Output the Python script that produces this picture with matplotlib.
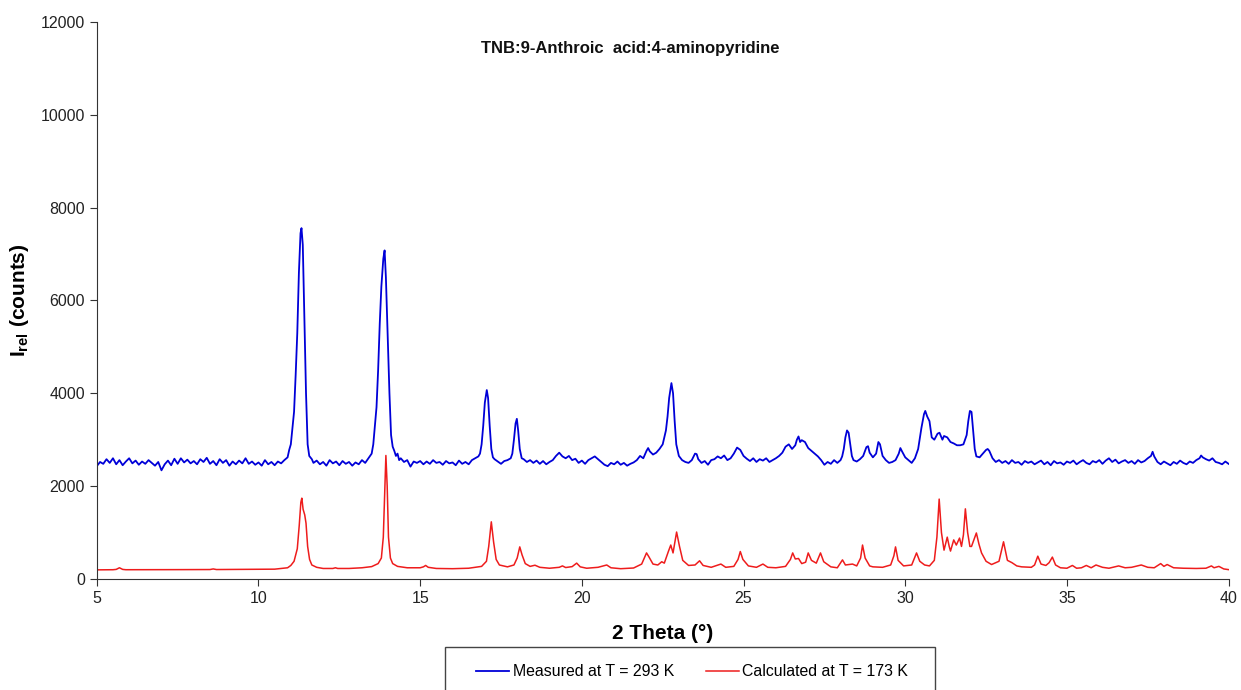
import matplotlib
matplotlib.use('Agg')
import matplotlib.pyplot as plt
from matplotlib.patches import Rectangle

plt.rcParams['font.family'] = ['Liberation Sans', 'DejaVu Sans']
plt.rcParams['mathtext.fontset'] = 'custom'
plt.rcParams['mathtext.rm'] = 'Liberation Sans'
plt.rcParams['mathtext.bf'] = 'Liberation Sans:bold'

title = 'TNB:9-Anthroic  acid:4-aminopyridine'
label_measured = 'Measured at T = 293 K'
label_calculated = 'Calculated at T = 173 K'
x_ticks = [5, 10, 15, 20, 25, 30, 35, 40]
y_ticks = [0, 2000, 4000, 6000, 8000, 10000, 12000]

# (2 theta, counts)
measured = [
    (5.0, 2430), (5.1, 2520), (5.2, 2480), (5.3, 2580), (5.4, 2500), (5.5, 2600), (5.6, 2470),
    (5.7, 2560), (5.8, 2450), (5.9, 2530), (6.0, 2600), (6.1, 2490), (6.2, 2550), (6.3, 2460),
    (6.4, 2530), (6.5, 2480), (6.6, 2560), (6.7, 2500), (6.8, 2440), (6.9, 2520), (7.0, 2340),
    (7.1, 2470), (7.2, 2550), (7.3, 2450), (7.4, 2590), (7.5, 2480), (7.6, 2600), (7.7, 2510),
    (7.8, 2570), (7.9, 2490), (8.0, 2540), (8.1, 2470), (8.2, 2580), (8.3, 2520), (8.4, 2610),
    (8.5, 2480), (8.6, 2540), (8.7, 2450), (8.8, 2580), (8.9, 2500), (9.0, 2560), (9.1, 2440),
    (9.2, 2530), (9.3, 2470), (9.4, 2550), (9.5, 2490), (9.6, 2600), (9.7, 2480), (9.8, 2530),
    (9.9, 2460), (10.0, 2510), (10.1, 2440), (10.2, 2560), (10.3, 2470), (10.4, 2520), (10.5, 2450),
    (10.6, 2530), (10.7, 2490), (10.8, 2560), (10.9, 2620), (10.95, 2780), (11.0, 2900),
    (11.05, 3250), (11.1, 3600), (11.15, 4400), (11.2, 5300), (11.25, 6600), (11.3, 7450),
    (11.33, 7560), (11.37, 7200), (11.42, 5600), (11.47, 4000), (11.52, 2900), (11.57, 2650),
    (11.65, 2580), (11.7, 2500), (11.8, 2550), (11.9, 2470), (12.0, 2520), (12.1, 2440),
    (12.2, 2560), (12.3, 2490), (12.4, 2530), (12.5, 2450), (12.6, 2540), (12.7, 2480),
    (12.8, 2520), (12.9, 2440), (13.0, 2510), (13.1, 2470), (13.2, 2560), (13.3, 2500),
    (13.4, 2600), (13.45, 2650), (13.5, 2700), (13.55, 2900), (13.6, 3300), (13.65, 3700),
    (13.7, 4500), (13.75, 5500), (13.8, 6300), (13.86, 6900), (13.9, 7080), (13.94, 6500),
    (14.0, 5100), (14.05, 4000), (14.1, 3100), (14.15, 2850), (14.2, 2760), (14.25, 2650),
    (14.3, 2700), (14.35, 2560), (14.4, 2600), (14.5, 2520), (14.6, 2560), (14.7, 2420),
    (14.8, 2530), (14.9, 2500), (15.0, 2540), (15.1, 2470), (15.2, 2530), (15.3, 2480),
    (15.4, 2560), (15.5, 2500), (15.6, 2520), (15.7, 2460), (15.8, 2540), (15.9, 2490),
    (16.0, 2510), (16.1, 2450), (16.2, 2550), (16.3, 2480), (16.4, 2520), (16.5, 2470),
    (16.6, 2560), (16.7, 2600), (16.8, 2640), (16.85, 2700), (16.9, 2900), (16.95, 3300),
    (17.0, 3800), (17.06, 4070), (17.1, 3900), (17.15, 3300), (17.2, 2800), (17.25, 2620),
    (17.3, 2580), (17.4, 2530), (17.5, 2480), (17.6, 2540), (17.7, 2560), (17.8, 2600),
    (17.85, 2700), (17.9, 3000), (17.95, 3350), (17.99, 3450), (18.03, 3200), (18.08, 2800),
    (18.14, 2600), (18.2, 2580), (18.3, 2520), (18.4, 2560), (18.5, 2500), (18.6, 2550),
    (18.7, 2480), (18.8, 2540), (18.9, 2470), (19.0, 2520), (19.1, 2560), (19.2, 2650),
    (19.3, 2720), (19.4, 2640), (19.5, 2600), (19.6, 2650), (19.7, 2560), (19.8, 2590),
    (19.9, 2500), (20.0, 2550), (20.1, 2480), (20.2, 2560), (20.3, 2600), (20.4, 2640),
    (20.5, 2580), (20.6, 2520), (20.7, 2460), (20.8, 2430), (20.9, 2500), (21.0, 2470),
    (21.1, 2530), (21.2, 2460), (21.3, 2500), (21.4, 2440), (21.5, 2480), (21.6, 2510),
    (21.7, 2560), (21.8, 2650), (21.9, 2600), (22.0, 2760), (22.05, 2820), (22.1, 2750),
    (22.2, 2680), (22.3, 2720), (22.4, 2800), (22.5, 2900), (22.6, 3200), (22.65, 3500),
    (22.7, 3900), (22.77, 4220), (22.82, 4000), (22.87, 3400), (22.92, 2900), (23.0, 2650),
    (23.1, 2560), (23.2, 2520), (23.3, 2500), (23.4, 2560), (23.5, 2700), (23.55, 2690),
    (23.6, 2580), (23.7, 2500), (23.8, 2540), (23.9, 2460), (24.0, 2560), (24.1, 2580),
    (24.2, 2640), (24.3, 2600), (24.4, 2660), (24.5, 2560), (24.6, 2600), (24.7, 2700),
    (24.8, 2830), (24.9, 2780), (25.0, 2650), (25.1, 2590), (25.2, 2540), (25.3, 2600),
    (25.4, 2520), (25.5, 2580), (25.6, 2550), (25.7, 2600), (25.8, 2520), (25.9, 2560),
    (26.0, 2600), (26.1, 2650), (26.2, 2720), (26.3, 2850), (26.4, 2900), (26.5, 2800),
    (26.6, 2880), (26.65, 3000), (26.7, 3070), (26.75, 2950), (26.8, 2990), (26.9, 2950),
    (27.0, 2820), (27.1, 2760), (27.2, 2700), (27.3, 2640), (27.4, 2560), (27.5, 2460),
    (27.6, 2520), (27.7, 2480), (27.8, 2560), (27.9, 2500), (28.0, 2560), (28.05, 2640),
    (28.1, 2800), (28.15, 3050), (28.2, 3200), (28.25, 3150), (28.3, 2900), (28.35, 2650),
    (28.4, 2560), (28.5, 2530), (28.6, 2580), (28.7, 2650), (28.8, 2840), (28.85, 2860),
    (28.9, 2720), (29.0, 2620), (29.1, 2700), (29.17, 2950), (29.22, 2900), (29.3, 2650),
    (29.4, 2560), (29.5, 2500), (29.6, 2520), (29.7, 2560), (29.8, 2700), (29.85, 2820),
    (29.9, 2750), (30.0, 2620), (30.1, 2560), (30.2, 2500), (30.3, 2600), (30.4, 2800),
    (30.5, 3250), (30.58, 3550), (30.62, 3620), (30.68, 3500), (30.75, 3400), (30.82, 3050),
    (30.9, 3000), (31.0, 3130), (31.06, 3150), (31.15, 3000), (31.2, 3080), (31.3, 3050),
    (31.4, 2950), (31.5, 2920), (31.6, 2880), (31.7, 2880), (31.8, 2900), (31.9, 3100),
    (31.95, 3400), (32.0, 3620), (32.05, 3600), (32.1, 3200), (32.15, 2800), (32.2, 2640),
    (32.3, 2620), (32.4, 2700), (32.5, 2780), (32.55, 2800), (32.6, 2760), (32.7, 2600),
    (32.8, 2520), (32.9, 2560), (33.0, 2500), (33.1, 2540), (33.2, 2480), (33.3, 2560),
    (33.4, 2500), (33.5, 2520), (33.6, 2460), (33.7, 2540), (33.8, 2500), (33.9, 2530),
    (34.0, 2470), (34.1, 2510), (34.2, 2550), (34.3, 2470), (34.4, 2520), (34.5, 2450),
    (34.6, 2540), (34.7, 2490), (34.8, 2510), (34.9, 2460), (35.0, 2530), (35.1, 2500),
    (35.2, 2550), (35.3, 2470), (35.4, 2520), (35.5, 2560), (35.6, 2500), (35.7, 2470),
    (35.8, 2540), (35.9, 2510), (36.0, 2560), (36.1, 2480), (36.2, 2550), (36.3, 2600),
    (36.4, 2520), (36.5, 2570), (36.6, 2490), (36.7, 2530), (36.8, 2560), (36.9, 2500),
    (37.0, 2540), (37.1, 2480), (37.2, 2560), (37.3, 2510), (37.4, 2540), (37.5, 2600),
    (37.6, 2650), (37.65, 2740), (37.7, 2640), (37.8, 2520), (37.9, 2470), (38.0, 2530),
    (38.1, 2490), (38.2, 2450), (38.3, 2520), (38.4, 2480), (38.5, 2550), (38.6, 2500),
    (38.7, 2470), (38.8, 2530), (38.9, 2500), (39.0, 2560), (39.1, 2600), (39.15, 2660),
    (39.2, 2620), (39.3, 2580), (39.4, 2550), (39.5, 2600), (39.6, 2520), (39.7, 2500),
    (39.8, 2470), (39.9, 2530), (40.0, 2480),
]

calculated = [
    (5.0, 195), (5.5, 198), (5.6, 205), (5.7, 240), (5.8, 205), (5.9, 198), (6.5, 198),
    (7.5, 200), (8.5, 202), (8.6, 215), (8.7, 202), (9.5, 205), (10.5, 210), (10.9, 240),
    (11.0, 290), (11.1, 380), (11.2, 650), (11.26, 1150), (11.31, 1650), (11.34, 1740),
    (11.38, 1500), (11.43, 1380), (11.47, 1200), (11.52, 700), (11.58, 420), (11.65, 300),
    (11.8, 250), (12.0, 225), (12.3, 225), (12.38, 240), (12.45, 225), (12.8, 225), (13.2, 240),
    (13.5, 265), (13.7, 330), (13.8, 450), (13.86, 900), (13.9, 1800), (13.94, 2660),
    (13.98, 2000), (14.02, 900), (14.08, 450), (14.15, 330), (14.3, 270), (14.6, 240),
    (15.0, 240), (15.1, 260), (15.17, 290), (15.25, 250), (15.5, 225), (16.0, 220), (16.5, 230),
    (16.9, 270), (17.05, 380), (17.12, 700), (17.2, 1230), (17.27, 800), (17.35, 420),
    (17.45, 300), (17.58, 280), (17.7, 260), (17.9, 300), (18.0, 450), (18.08, 690),
    (18.15, 520), (18.25, 330), (18.4, 270), (18.55, 295), (18.7, 250), (19.0, 230), (19.3, 250),
    (19.4, 280), (19.5, 245), (19.7, 265), (19.84, 340), (19.95, 260), (20.15, 230), (20.5, 250),
    (20.77, 300), (20.9, 240), (21.2, 220), (21.6, 235), (21.85, 320), (22.0, 560), (22.07, 480),
    (22.2, 320), (22.35, 300), (22.47, 370), (22.55, 340), (22.68, 600), (22.75, 730),
    (22.82, 560), (22.93, 1010), (23.02, 700), (23.12, 400), (23.3, 290), (23.5, 300),
    (23.64, 390), (23.75, 290), (24.0, 250), (24.3, 320), (24.45, 250), (24.7, 270), (24.83, 420),
    (24.9, 590), (24.98, 420), (25.15, 280), (25.4, 250), (25.6, 320), (25.75, 250), (26.0, 240),
    (26.3, 270), (26.45, 420), (26.52, 560), (26.6, 430), (26.7, 440), (26.8, 330), (26.92, 360),
    (27.0, 560), (27.1, 400), (27.25, 340), (27.38, 560), (27.48, 370), (27.7, 260), (27.9, 240),
    (28.06, 410), (28.15, 300), (28.37, 320), (28.5, 280), (28.62, 450), (28.68, 730),
    (28.76, 450), (28.9, 280), (29.0, 260), (29.3, 250), (29.55, 300), (29.65, 500), (29.7, 690),
    (29.78, 400), (29.95, 280), (30.2, 300), (30.35, 560), (30.45, 380), (30.6, 300), (30.75, 280),
    (30.9, 400), (30.98, 900), (31.05, 1720), (31.12, 1000), (31.2, 620), (31.3, 900),
    (31.36, 700), (31.4, 600), (31.5, 840), (31.58, 730), (31.68, 880), (31.74, 700), (31.8, 950),
    (31.86, 1510), (31.93, 1000), (32.0, 700), (32.05, 700), (32.2, 990), (32.28, 750),
    (32.36, 560), (32.5, 380), (32.67, 310), (32.9, 380), (33.04, 800), (33.1, 600), (33.16, 400),
    (33.3, 350), (33.45, 280), (33.6, 260), (33.9, 250), (34.0, 300), (34.1, 490), (34.2, 320),
    (34.35, 290), (34.45, 350), (34.55, 470), (34.65, 300), (34.8, 240), (35.0, 230),
    (35.17, 290), (35.3, 230), (35.45, 240), (35.6, 290), (35.75, 240), (35.9, 300), (36.1, 250),
    (36.3, 230), (36.6, 280), (36.8, 240), (37.0, 250), (37.3, 300), (37.5, 250), (37.7, 240),
    (37.9, 330), (38.0, 270), (38.1, 310), (38.3, 240), (38.6, 230), (39.0, 225), (39.3, 230),
    (39.47, 280), (39.55, 240), (39.7, 270), (39.85, 215), (40.0, 200),
]

mx, my = zip(*measured)
cx, cy = zip(*calculated)

fig = plt.figure(figsize=(12.41, 6.9), dpi=100)
ax = fig.add_axes([0.078, 0.161, 0.912, 0.807])

ax.plot(mx, my, color='#0000d8', lw=1.3, label=label_measured)
ax.plot(cx, cy, color='#ee1c1c', lw=1.1, label=label_calculated)

ax.set_xlim(5, 40)
ax.set_ylim(0, 12000)
ax.set_xticks(x_ticks)
ax.set_yticks(y_ticks)
ax.tick_params(labelsize=11.5, direction='out', length=5, color='#333333', labelcolor='#222222')
for side in ['top', 'right']:
    ax.spines[side].set_visible(False)
for side in ['left', 'bottom']:
    ax.spines[side].set_color('#333333')

ax.text(0.471, 0.952, title, transform=ax.transAxes, ha='center', va='center',
        fontsize=12, fontweight='bold', color='#111111')
ax.set_xlabel('2 Theta (°)', fontsize=15, fontweight='bold', labelpad=13)
ax.set_ylabel(r'$\mathbf{I_{rel}}$ (counts)', fontsize=15, fontweight='bold', labelpad=7)

# legend box hanging off the bottom edge
fig.patches.append(Rectangle((445 / 1241, -0.02), 490 / 1241, 0.02 + 43 / 690,
                             transform=fig.transFigure, fill=False,
                             edgecolor='#444444', lw=1.0))
fig.legend(loc='center', bbox_to_anchor=(692 / 1241, 1 - 672 / 690), ncol=2,
           frameon=False, fontsize=11.4, handlelength=2.1, handletextpad=0.2,
           columnspacing=2.0)

fig.savefig('out.png', dpi=100)
